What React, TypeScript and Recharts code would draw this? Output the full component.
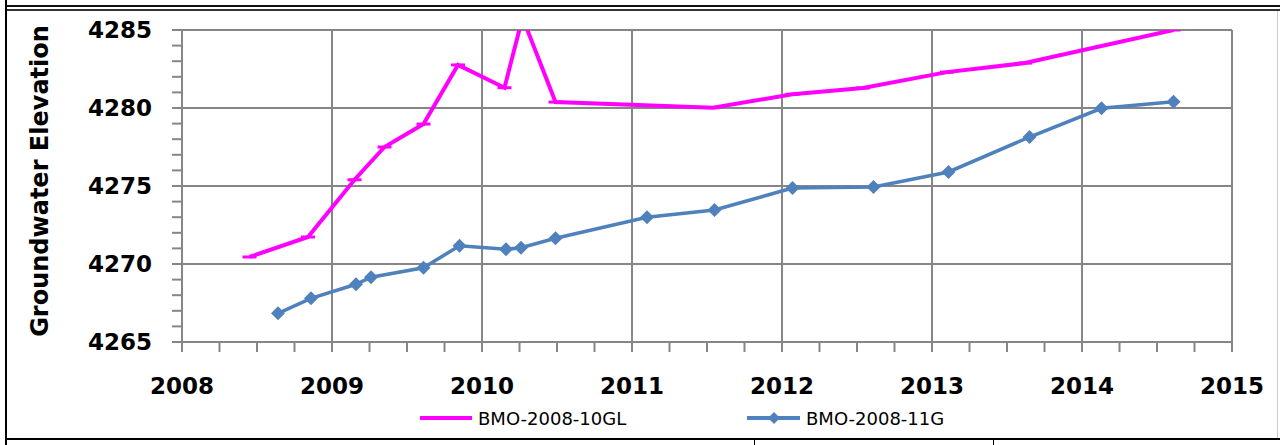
import React from 'react';
import { LineChart, Line, XAxis, YAxis, CartesianGrid, Legend } from 'recharts';

// sampling dates (decimal years) and groundwater elevations
const dates10GL = [2008.45, 2008.84, 2009.15, 2009.35, 2009.61, 2009.84, 2010.15, 2010.27, 2010.49, 2011.54, 2012.07, 2012.54, 2013.1, 2013.62, 2014.61];
const elev10GL = [4270.45, 4271.73, 4275.4, 4277.5, 4278.97, 4282.76, 4281.3, 4285.8, 4280.38, 4280.02, 4280.88, 4281.28, 4282.3, 4282.88, 4285.0];

const dates11G = [2008.64, 2008.86, 2009.16, 2009.26, 2009.61, 2009.85, 2010.16, 2010.26, 2010.49, 2011.1, 2011.55, 2012.07, 2012.61, 2013.11, 2013.65, 2014.13, 2014.61];
const elev11G = [4266.84, 4267.8, 4268.7, 4269.15, 4269.76, 4271.17, 4270.94, 4271.04, 4271.65, 4273.0, 4273.46, 4274.87, 4274.94, 4275.9, 4278.14, 4279.98, 4280.4];

const yearLabels = [2008, 2009, 2010, 2011, 2012, 2013, 2014, 2015];
const elevLabels = [4265, 4270, 4275, 4280, 4285];
const yearMinor = [0, 0.25, 0.5, 0.75];
const elevMinor = [0, 1, 2, 3, 4];

const xTicks = yearLabels.flatMap((y, i) => (i < yearLabels.length - 1 ? yearMinor.map((q) => y + q) : [y]));
const yTicks = elevLabels.flatMap((v, i) => (i < elevLabels.length - 1 ? elevMinor.map((d) => v + d) : [v]));

const data10GL = dates10GL.map((x, i) => ({ x, y: elev10GL[i] }));
const data11G = dates11G.map((x, i) => ({ x, y: elev11G[i] }));

const FONT = '"DejaVu Sans", sans-serif';
const GRID = '#868686';
const MAGENTA = '#FF00FF';
const BLUE = '#4F81BD';

const YTick = (props: any) => {
  const { x, y, payload } = props;
  if (!elevLabels.includes(payload.value)) return <g />;
  return (
    <text x={x} y={y} dy={8} textAnchor="end" fontFamily={FONT} fontWeight="bold" fontSize={23} fill="#000">
      {payload.value}
    </text>
  );
};

const XTick = (props: any) => {
  const { x, y, payload } = props;
  if (!yearLabels.includes(payload.value)) return <g />;
  return (
    <text x={x} y={y} dy={18} textAnchor="middle" fontFamily={FONT} fontWeight="bold" fontSize={23} fill="#000">
      {payload.value}
    </text>
  );
};

const DashDot = (props: any) => {
  const { cx, cy } = props;
  if (cx == null || cy == null) return <g />;
  return <line x1={cx - 7} x2={cx + 7} y1={cy} y2={cy} stroke={MAGENTA} strokeWidth={3} />;
};

const DiamondDot = (props: any) => {
  const { cx, cy } = props;
  if (cx == null || cy == null) return <g />;
  return <polygon points={`${cx},${cy - 7} ${cx + 7},${cy} ${cx},${cy + 7} ${cx - 7},${cy}`} fill={BLUE} />;
};

const YLabel = () => (
  <text
    x={40}
    y={181}
    transform="rotate(-90 40 181)"
    textAnchor="middle"
    dominantBaseline="central"
    fontFamily={FONT}
    fontWeight="bold"
    fontSize={24}
    fill="#000"
  >
    Groundwater Elevation
  </text>
);

const LegendBox = () => (
  <svg width={1280} height={43} style={{ display: 'block' }}>
    <line x1={420} x2={472} y1={16} y2={16} stroke={MAGENTA} strokeWidth={4} />
    <text x={478} y={23} fontFamily={FONT} fontSize={18} fill="#000">BMO-2008-10GL</text>
    <line x1={747} x2={800} y1={16} y2={16} stroke={BLUE} strokeWidth={4} />
    <polygon points="774,10 780,16 774,22 768,16" fill={BLUE} />
    <text x={806} y={23} fontFamily={FONT} fontSize={18} fill="#000">BMO-2008-11G</text>
  </svg>
);

export default function App() {
  return (
    <div style={{ position: 'absolute', left: 0, top: 0, width: 1280, height: 445, background: '#fff', overflow: 'hidden' }}>
      <LineChart width={1280} height={445} margin={{ top: 30, right: 48, bottom: 0, left: 0 }}>
        <CartesianGrid stroke={GRID} strokeWidth={2} horizontalValues={elevLabels} verticalValues={yearLabels} />
        <XAxis
          type="number"
          dataKey="x"
          domain={[2008, 2015]}
          ticks={xTicks}
          interval={0}
          height={60}
          tickSize={10}
          tickMargin={24}
          tick={<XTick />}
          axisLine={{ stroke: GRID, strokeWidth: 2 }}
          tickLine={{ stroke: GRID, strokeWidth: 2 }}
        />
        <YAxis
          type="number"
          dataKey="y"
          domain={[4265, 4285]}
          allowDataOverflow
          ticks={yTicks}
          interval={0}
          width={182}
          tickSize={10}
          tickMargin={20}
          tick={<YTick />}
          axisLine={{ stroke: GRID, strokeWidth: 2 }}
          tickLine={{ stroke: GRID, strokeWidth: 2 }}
          label={<YLabel />}
        />
        <Legend verticalAlign="bottom" content={<LegendBox />} />
        <Line data={data10GL} dataKey="y" name="BMO-2008-10GL" stroke={MAGENTA} strokeWidth={4} dot={<DashDot />} isAnimationActive={false} />
        <Line data={data11G} dataKey="y" name="BMO-2008-11G" stroke={BLUE} strokeWidth={3.5} dot={<DiamondDot />} isAnimationActive={false} />
      </LineChart>
      <div style={{ position: 'absolute', left: 5, top: 0, width: 2, height: 445, background: '#000' }} />
      <div style={{ position: 'absolute', left: 7, top: 5, width: 1273, height: 2, background: '#111' }} />
      <div style={{ position: 'absolute', left: 7, top: 9, width: 1273, height: 2, background: '#333' }} />
      <div style={{ position: 'absolute', left: 1277, top: 11, width: 1, height: 428, background: '#ccc' }} />
      <div style={{ position: 'absolute', left: 7, top: 438, width: 1273, height: 2, background: '#000' }} />
      <div style={{ position: 'absolute', left: 754, top: 440, width: 1, height: 5, background: '#000' }} />
      <div style={{ position: 'absolute', left: 993, top: 440, width: 1, height: 5, background: '#000' }} />
    </div>
  );
}
